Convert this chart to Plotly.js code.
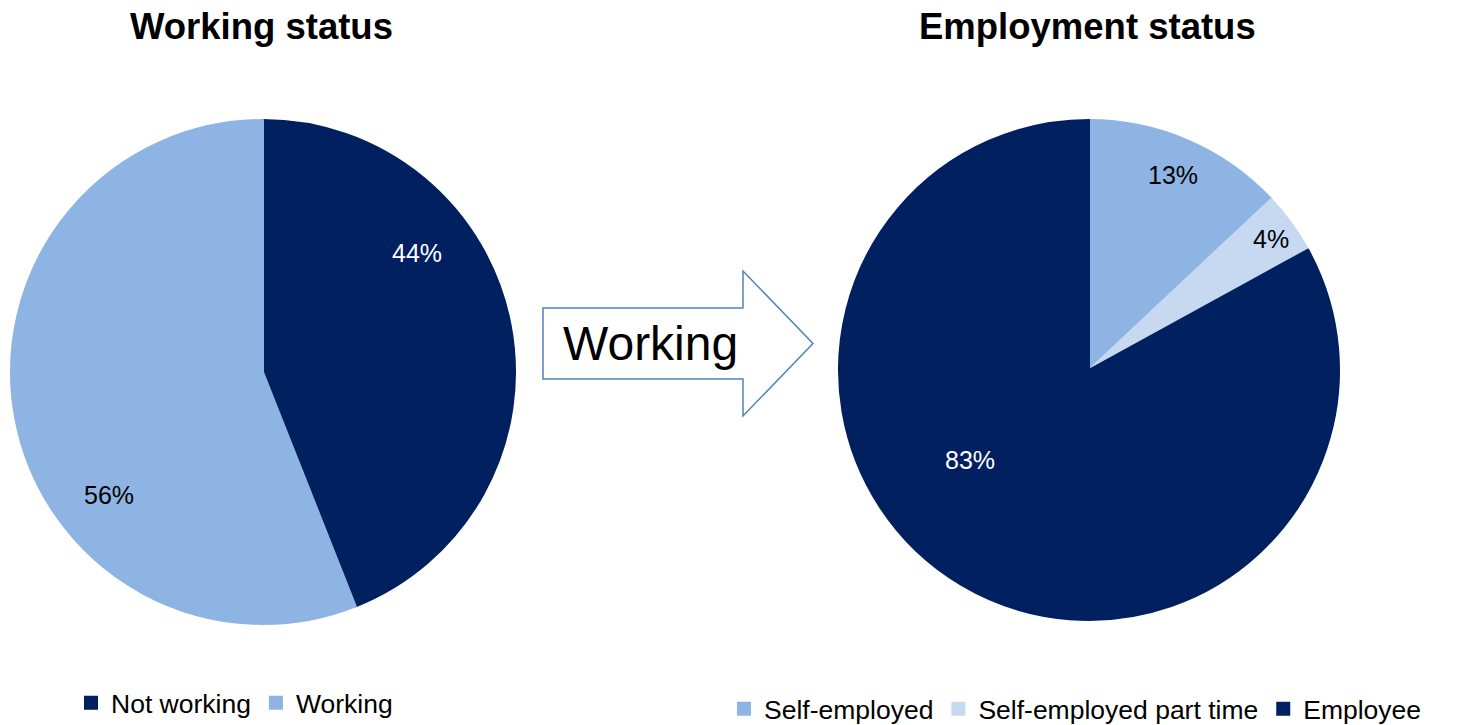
<!DOCTYPE html>
<html>
<head>
<meta charset="utf-8">
<script src="https://cdn.plot.ly/plotly-3.0.1.min.js"></script>
<style>html,body{margin:0;padding:0;background:#fff}#chart{width:1458px;height:725px}</style>
</head>
<body>
<div id="chart"></div>
<script>
// Data
const workingLabels = ["Not working", "Working"];
const workingValues = [44, 56];
const workingColors = ["#002060", "#8EB4E3"];
const workingTextColors = ["#FFFFFF", "#000000"];

const employmentLabels = ["Self-employed", "Self-employed part time", "Employee"];
const employmentValues = [13, 4, 83];
const employmentColors = ["#8EB4E3", "#C6D9F1", "#002060"];
const employmentTextColors = ["#000000", "#000000", "#FFFFFF"];

// Label placement (pixel positions of the percentage labels, as in the reference layout)
const workingLabelPos = [[417, 253], [109, 495]];
const employmentLabelPos = [[1173, 175], [1271, 239], [970, 460]];

const W = 1458, H = 725;
const px = x => x / W;
const py = y => 1 - y / H;

const FONT = "Liberation Sans, Arial, sans-serif";

const pct = (vals) => {
  const tot = vals.reduce((a, b) => a + b, 0);
  return vals.map(v => Math.round(v / tot * 100) + "%");
};

const traces = [
  {
    type: "pie",
    labels: workingLabels,
    values: workingValues,
    sort: false,
    direction: "clockwise",
    rotation: 0,
    marker: {colors: workingColors, line: {color: workingColors, width: 2}},
    textinfo: "none",
    hoverinfo: "label+percent",
    domain: {x: [px(11), px(515)], y: [py(624), py(120)]},
    legend: "legend"
  },
  {
    type: "pie",
    labels: employmentLabels,
    values: employmentValues,
    sort: false,
    direction: "clockwise",
    rotation: 0,
    marker: {colors: employmentColors, line: {color: employmentColors, width: 2}},
    textinfo: "none",
    hoverinfo: "label+percent",
    domain: {x: [px(839), px(1339)], y: [py(620), py(120)]},
    legend: "legend2"
  }
];

const arrowPts = [[543,308],[743,308],[743,271],[813,343.5],[743,416],[743,379],[543,379]];
const arrowPath = arrowPts.map((p, i) => (i ? "L" : "M") + px(p[0]).toFixed(5) + "," + py(p[1]).toFixed(5)).join(" ") + " Z";

const labelAnn = (texts, pos, colors) => texts.map((t, i) => ({
  text: t, xref: "paper", yref: "paper", x: px(pos[i][0]), y: py(pos[i][1]),
  xanchor: "center", yanchor: "middle", showarrow: false,
  font: {family: FONT, size: 25, color: colors[i]}
}));

const layout = {
  width: W, height: H,
  margin: {l: 0, r: 0, t: 0, b: 0, autoexpand: false},
  paper_bgcolor: "#FFFFFF",
  font: {family: FONT, color: "#000000"},
  showlegend: true,
  legend: {
    orientation: "h", x: px(71), y: py(703), xanchor: "left", yanchor: "middle",
    font: {family: FONT, size: 26.5, color: "#000000"},
    itemwidth: 30, traceorder: "normal", bgcolor: "rgba(0,0,0,0)"
  },
  legend2: {
    orientation: "h", x: px(724), y: py(709), xanchor: "left", yanchor: "middle",
    font: {family: FONT, size: 26.5, color: "#000000"},
    itemwidth: 30, traceorder: "normal", bgcolor: "rgba(0,0,0,0)"
  },
  shapes: [
    {type: "path", xref: "paper", yref: "paper", path: arrowPath,
     line: {color: "#4F81BD", width: 1.5}, fillcolor: "#FFFFFF"}
  ],
  annotations: [
    {text: "<b>Working status</b>", xref: "paper", yref: "paper", x: px(261.5), y: py(27),
     xanchor: "center", yanchor: "middle", showarrow: false, font: {family: FONT, size: 36.5, color: "#000"}},
    {text: "<b>Employment status</b>", xref: "paper", yref: "paper", x: px(1087.5), y: py(27),
     xanchor: "center", yanchor: "middle", showarrow: false, font: {family: FONT, size: 36.5, color: "#000"}},
    {text: "Working", xref: "paper", yref: "paper", x: px(650), y: py(343),
     xanchor: "center", yanchor: "middle", showarrow: false, font: {family: FONT, size: 48, color: "#000"}}
  ].concat(
    labelAnn(pct(workingValues), workingLabelPos, workingTextColors),
    labelAnn(pct(employmentValues), employmentLabelPos, employmentTextColors)
  )
};

Plotly.newPlot("chart", traces, layout, {displayModeBar: false, staticPlot: true});
</script>
</body>
</html>
